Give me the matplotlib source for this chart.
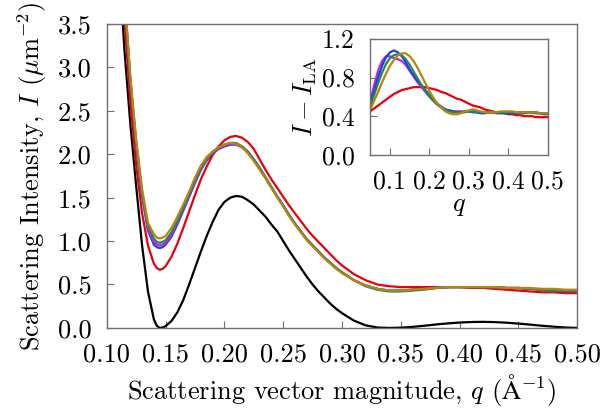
import matplotlib
matplotlib.use("Agg")
import matplotlib.pyplot as plt

plt.rcParams["font.family"] = "serif"
plt.rcParams["font.serif"] = ["cmr10"]
plt.rcParams["mathtext.fontset"] = "cm"
plt.rcParams["axes.formatter.use_mathtext"] = True

# main panel: q grid (1/A)
q = [0.110, 0.115, 0.120, 0.125, 0.130, 0.135, 0.140, 0.1425, 0.145, 0.1475,
     0.150, 0.155,
     0.160, 0.165, 0.170, 0.175, 0.180, 0.185, 0.190, 0.195, 0.200, 0.205,
     0.210, 0.215, 0.220, 0.225, 0.230, 0.235, 0.240, 0.245, 0.250, 0.255,
     0.260, 0.265, 0.270, 0.275, 0.280, 0.285, 0.290, 0.295, 0.300, 0.310,
     0.320, 0.330, 0.340, 0.350, 0.360, 0.370, 0.380, 0.390, 0.400, 0.410,
     0.420, 0.430, 0.440, 0.450, 0.460, 0.470, 0.480, 0.490, 0.500]

I_black = [4.30, 3.20, 2.35, 1.63, 0.95, 0.42, 0.10, 0.025, 0.00, 0.005,
           0.02, 0.08,
           0.18, 0.32, 0.50, 0.69, 0.88, 1.06, 1.22, 1.36, 1.45, 1.50,
           1.52, 1.51, 1.47, 1.42, 1.35, 1.28, 1.19, 1.11, 1.00, 0.89,
           0.79, 0.69, 0.59, 0.50, 0.42, 0.35, 0.28, 0.22, 0.17, 0.085,
           0.03, 0.005, 0.0, 0.003, 0.012, 0.025, 0.04, 0.052, 0.062, 0.068,
           0.07, 0.067, 0.06, 0.05, 0.038, 0.025, 0.014, 0.005, 0.0]

I_red = [4.60, 3.55, 2.60, 1.87, 1.32, 0.95, 0.74, 0.69, 0.67, 0.68,
         0.71, 0.82,
         0.97, 1.15, 1.34, 1.53, 1.71, 1.86, 1.99, 2.09, 2.16, 2.20,
         2.21, 2.19, 2.14, 2.06, 1.94, 1.82, 1.71, 1.61, 1.51, 1.41,
         1.32, 1.23, 1.14, 1.06, 0.99, 0.92, 0.85, 0.78, 0.72, 0.62,
         0.55, 0.50, 0.48, 0.47, 0.47, 0.47, 0.47, 0.47, 0.47, 0.46,
         0.46, 0.45, 0.44, 0.43, 0.42, 0.41, 0.41, 0.40, 0.40]

I_purple = [5.20, 3.82, 2.85, 2.11, 1.54, 1.14, 0.99, 0.96, 0.95, 0.96,
            0.98, 1.07,
            1.21, 1.36, 1.52, 1.68, 1.83, 1.94, 2.02, 2.07, 2.10, 2.12,
            2.12, 2.09, 2.03, 1.94, 1.84, 1.73, 1.62, 1.51, 1.41, 1.30,
            1.20, 1.11, 1.02, 0.95, 0.88, 0.81, 0.75, 0.69, 0.64, 0.55,
            0.49, 0.45, 0.43, 0.43, 0.44, 0.45, 0.46, 0.47, 0.47, 0.47,
            0.47, 0.47, 0.46, 0.46, 0.45, 0.44, 0.43, 0.43, 0.42]

I_blue = [5.20, 3.81, 2.83, 2.09, 1.52, 1.12, 0.96, 0.93, 0.92, 0.93,
          0.96, 1.05,
          1.19, 1.35, 1.51, 1.67, 1.82, 1.93, 2.01, 2.06, 2.09, 2.11,
          2.11, 2.08, 2.02, 1.94, 1.84, 1.73, 1.62, 1.51, 1.41, 1.30,
          1.20, 1.11, 1.02, 0.95, 0.88, 0.81, 0.75, 0.69, 0.64, 0.55,
          0.49, 0.45, 0.43, 0.43, 0.44, 0.45, 0.46, 0.47, 0.47, 0.47,
          0.47, 0.47, 0.46, 0.46, 0.45, 0.44, 0.43, 0.42, 0.42]

I_green = [5.20, 3.83, 2.87, 2.13, 1.56, 1.17, 1.03, 0.99, 0.98, 0.99,
           1.01, 1.10,
           1.23, 1.38, 1.54, 1.70, 1.84, 1.95, 2.03, 2.08, 2.11, 2.13,
           2.13, 2.09, 2.03, 1.94, 1.84, 1.73, 1.62, 1.51, 1.41, 1.30,
           1.20, 1.11, 1.02, 0.95, 0.88, 0.81, 0.75, 0.69, 0.64, 0.55,
           0.48, 0.44, 0.42, 0.42, 0.43, 0.44, 0.46, 0.47, 0.47, 0.47,
           0.47, 0.47, 0.46, 0.46, 0.45, 0.44, 0.43, 0.43, 0.43]

I_gold = [5.20, 3.85, 2.90, 2.17, 1.60, 1.21, 1.08, 1.04, 1.03, 1.04,
          1.06, 1.15,
          1.28, 1.42, 1.57, 1.73, 1.87, 1.97, 2.03, 2.08, 2.11, 2.13,
          2.12, 2.08, 2.01, 1.92, 1.82, 1.72, 1.61, 1.50, 1.40, 1.29,
          1.19, 1.10, 1.01, 0.94, 0.87, 0.80, 0.74, 0.68, 0.63, 0.55,
          0.49, 0.45, 0.43, 0.43, 0.44, 0.45, 0.46, 0.47, 0.47, 0.47,
          0.47, 0.47, 0.46, 0.46, 0.46, 0.45, 0.45, 0.44, 0.44]

# inset: I - I_LA
q_in = [0.05, 0.06, 0.07, 0.08, 0.09, 0.10, 0.11, 0.12, 0.13, 0.14,
        0.15, 0.16, 0.17, 0.18, 0.19, 0.20, 0.21, 0.22, 0.23, 0.24,
        0.25, 0.26, 0.27, 0.28, 0.29, 0.30, 0.31, 0.32, 0.33, 0.34,
        0.35, 0.36, 0.37, 0.38, 0.39, 0.40, 0.41, 0.42, 0.43, 0.44,
        0.45, 0.46, 0.47, 0.48, 0.49, 0.50]

d_red = [0.45, 0.48, 0.51, 0.54, 0.57, 0.60, 0.63, 0.65, 0.67, 0.68,
         0.69, 0.70, 0.70, 0.70, 0.70, 0.69, 0.68, 0.67, 0.65, 0.64,
         0.62, 0.60, 0.58, 0.57, 0.55, 0.53, 0.51, 0.50, 0.49, 0.47,
         0.46, 0.45, 0.44, 0.44, 0.43, 0.42, 0.42, 0.41, 0.41, 0.40,
         0.40, 0.40, 0.39, 0.39, 0.39, 0.39]

d_purple = [0.55, 0.72, 0.87, 0.97, 1.02, 1.02, 1.00, 0.99, 0.97, 0.93,
            0.87, 0.81, 0.75, 0.70, 0.65, 0.60, 0.56, 0.52, 0.49, 0.47,
            0.46, 0.45, 0.45, 0.45, 0.45, 0.45, 0.45, 0.44, 0.44, 0.44,
            0.44, 0.44, 0.44, 0.44, 0.44, 0.44, 0.44, 0.44, 0.44, 0.44,
            0.44, 0.44, 0.44, 0.43, 0.43, 0.43]

d_blue = [0.52, 0.66, 0.80, 0.92, 1.01, 1.06, 1.08, 1.06, 1.02, 0.96,
          0.88, 0.82, 0.77, 0.72, 0.67, 0.62, 0.57, 0.53, 0.50, 0.47,
          0.46, 0.45, 0.44, 0.44, 0.45, 0.45, 0.44, 0.44, 0.43, 0.43,
          0.44, 0.44, 0.43, 0.43, 0.43, 0.43, 0.43, 0.43, 0.43, 0.43,
          0.44, 0.44, 0.43, 0.43, 0.42, 0.42]

d_green = [0.50, 0.62, 0.74, 0.85, 0.94, 1.00, 1.03, 1.04, 1.03, 0.99,
           0.93, 0.86, 0.79, 0.72, 0.66, 0.61, 0.56, 0.52, 0.49, 0.47,
           0.45, 0.44, 0.44, 0.44, 0.44, 0.45, 0.45, 0.44, 0.44, 0.44,
           0.44, 0.44, 0.44, 0.44, 0.44, 0.44, 0.44, 0.44, 0.44, 0.44,
           0.44, 0.44, 0.44, 0.43, 0.43, 0.43]

d_gold = [0.47, 0.56, 0.65, 0.75, 0.84, 0.92, 0.98, 1.03, 1.05, 1.05,
          1.02, 0.97, 0.90, 0.82, 0.74, 0.66, 0.59, 0.53, 0.49, 0.45,
          0.43, 0.42, 0.42, 0.43, 0.45, 0.46, 0.47, 0.46, 0.45, 0.44,
          0.44, 0.44, 0.44, 0.45, 0.45, 0.45, 0.45, 0.44, 0.44, 0.44,
          0.44, 0.44, 0.44, 0.43, 0.43, 0.43]

RED = "#e8000b"
PURPLE = "#c81ee8"
BLUE = "#1f3fe0"
GREEN = "#1a8a5c"
GOLD = "#b8860b"
SPINE = "#707070"
FS = 19

fig = plt.figure(figsize=(6.0, 4.13), dpi=100)
ax = fig.add_axes([0.178, 0.206, 0.784, 0.736])

ax.plot(q, I_black, color="black", lw=1.6)
ax.plot(q, I_red, color=RED, lw=1.6)
ax.plot(q, I_blue, color=BLUE, lw=1.6)
ax.plot(q, I_purple, color=PURPLE, lw=1.6)
ax.plot(q, I_green, color=GREEN, lw=1.6)
ax.plot(q, I_gold, color=GOLD, lw=1.6)

ax.set_xlim(0.1, 0.5)
ax.set_ylim(0.0, 3.5)
ax.set_xticks([0.10, 0.15, 0.20, 0.25, 0.30, 0.35, 0.40, 0.45, 0.50])
ax.set_xticklabels(["0.10", "0.15", "0.20", "0.25", "0.30", "0.35", "0.40", "0.45", "0.50"])
ax.set_yticks([0.0, 0.5, 1.0, 1.5, 2.0, 2.5, 3.0, 3.5])
ax.set_yticklabels(["0.0", "0.5", "1.0", "1.5", "2.0", "2.5", "3.0", "3.5"])
ax.tick_params(direction="in", length=5, color=SPINE, labelsize=FS, pad=11)
for s in ax.spines.values():
    s.set_color(SPINE)
    s.set_linewidth(1.0)
ax.set_xlabel(r"Scattering vector magnitude, $q$ ($\mathrm{\AA}^{-1}$)", fontsize=FS, labelpad=4)
ax.set_ylabel(r"Scattering Intensity, $I$ ($\mu\mathrm{m}^{-2}$)", fontsize=FS, labelpad=6)

ins = fig.add_axes([0.617, 0.625, 0.296, 0.281])
ins.plot(q_in, d_red, color=RED, lw=1.6)
ins.plot(q_in, d_purple, color=PURPLE, lw=1.6)
ins.plot(q_in, d_blue, color=BLUE, lw=1.6)
ins.plot(q_in, d_green, color=GREEN, lw=1.6)
ins.plot(q_in, d_gold, color=GOLD, lw=1.6)
ins.set_xlim(0.05, 0.5)
ins.set_ylim(0.0, 1.2)
ins.set_xticks([0.1, 0.2, 0.3, 0.4, 0.5])
ins.set_xticklabels(["0.1", "0.2", "0.3", "0.4", "0.5"])
ins.set_yticks([0.0, 0.4, 0.8, 1.2])
ins.set_yticklabels(["0.0", "0.4", "0.8", "1.2"])
ins.tick_params(direction="in", length=5, color=SPINE, labelsize=FS - 0.5, pad=11)
for s in ins.spines.values():
    s.set_color(SPINE)
    s.set_linewidth(1.0)
ins.set_xlabel(r"$q$", fontsize=FS, labelpad=0)
ins.set_ylabel(r"$I - I_{\mathrm{LA}}$", fontsize=FS, labelpad=2)

fig.savefig("out.png", dpi=100)
